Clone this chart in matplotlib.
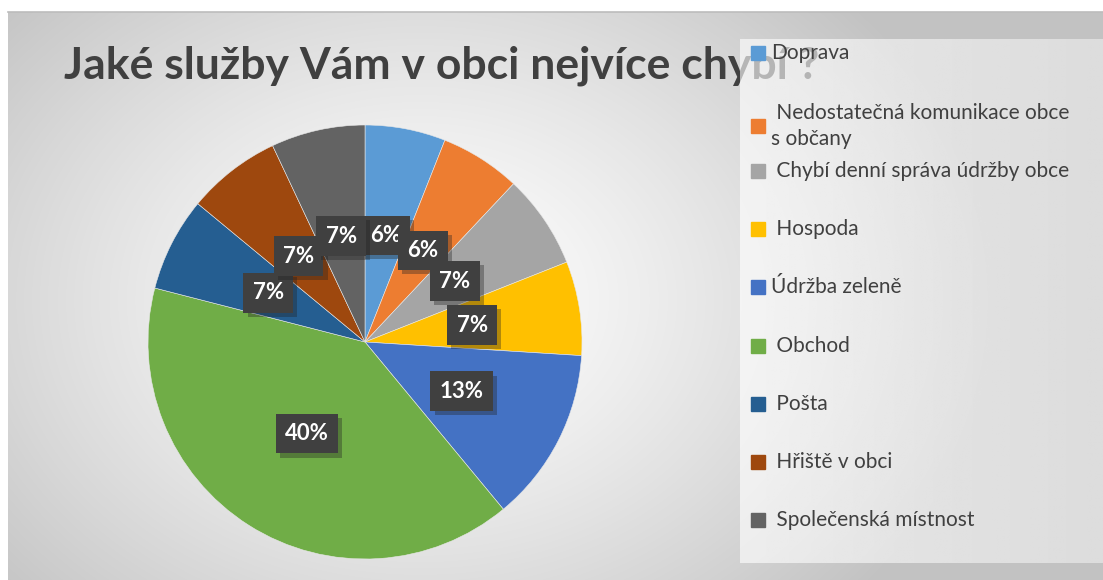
import numpy as np
import matplotlib
matplotlib.use("Agg")
import matplotlib.pyplot as plt
import matplotlib.patheffects as pe
from matplotlib.colors import LinearSegmentedColormap

# Data
categories = ['Doprava', 'Nedostatečná komunikace obce\ns občany', 'Chybí denní správa údržby obce',
              'Hospoda', 'Údržba zeleně', 'Obchod', 'Pošta', 'Hřiště v obci', 'Společenská místnost']
values = [6, 6, 7, 7, 13, 40, 7, 7, 7]
colors = ['#5B9BD5', '#ED7D31', '#A5A5A5', '#FFC000', '#4472C4', '#70AD47', '#255E91', '#9E480E', '#636363']
legend_prefix = ['', ' ', ' ', ' ', '', ' ', ' ', ' ', ' ']
title = 'Jaké služby Vám v obci nejvíce chybí ?'

W, H = 1103, 580
fig = plt.figure(figsize=(W / 100, H / 100), dpi=100)

# Background with radial gradient (pixel coordinates)
bg = fig.add_axes([0, 0, 1, 1])
bg.set_xlim(0, W)
bg.set_ylim(H, 0)
bg.axis('off')
yy, xx = np.mgrid[12:H, 8:W]
d = np.sqrt(((xx - 420) / 620.0) ** 2 + ((yy - 300) / 480.0) ** 2)
shade = np.clip(1.0 - 0.26 * d ** 1.3, 0.76, 1.0)
cmap = LinearSegmentedColormap.from_list('g', ['#c2c2c2', '#ffffff'])
bg.imshow(shade, cmap=cmap, vmin=0.76, vmax=1.0, extent=(8, W, H, 12), aspect='auto', zorder=0)
bg.plot([8, W], [12, 12], color='#bcbcbc', lw=1.2, zorder=1)

# Title
bg.text(64, 66, title, fontsize=32, fontweight='bold', family='Lato', color='#404040',
        va='center', ha='left', zorder=2)

# Legend box (semi-transparent, over the title)
lx = np.linspace(0, 1, 300)
lg = 1.0 - 0.07 * lx ** 1.1
lgrid = np.tile(lg, (50, 1))
bg.imshow(lgrid, cmap='gray', vmin=0, vmax=1, extent=(740, W, 563, 39), aspect='auto',
          alpha=0.62, zorder=3)

# Pie
cx, cy, r = 365, 342, 217
pax = fig.add_axes([(cx - r) / W, (H - cy - r) / H, 2 * r / W, 2 * r / H])
wedges, texts, autotexts = pax.pie(values, colors=colors, startangle=90, counterclock=False,
                                   autopct=lambda p: f'{p:.0f}%', pctdistance=0.5,
                                   wedgeprops=dict(edgecolor='#e8e8e8', linewidth=0.4))
pax.set_xlim(-1, 1)
pax.set_ylim(-1, 1)
pax.set_aspect('equal')
for t in autotexts:
    t.set_color('white')
    t.set_fontsize(16)
    t.set_fontweight('bold')
    t.set_family('Lato')
    t.set_bbox(dict(boxstyle='square,pad=0.42', fc='#404040', ec='none'))
    t.get_bbox_patch().set_path_effects([pe.SimplePatchShadow(offset=(3, -3), shadow_rgbFace='#202020', alpha=0.35),
                                         pe.Normal()])

# Legend entries
ys = [53, 126, 171, 229, 287, 346, 404, 462, 520]
for lab, col, pre, y in zip(categories, colors, legend_prefix, ys):
    bg.add_patch(plt.Rectangle((751, y - 7), 14, 14, color=col, zorder=4))
    bg.text(771, y, pre + lab, fontsize=15, family='Lato', color='#404040', va='center', ha='left',
            zorder=5, linespacing=1.35)

fig.savefig('out.png', dpi=100, facecolor='white')
